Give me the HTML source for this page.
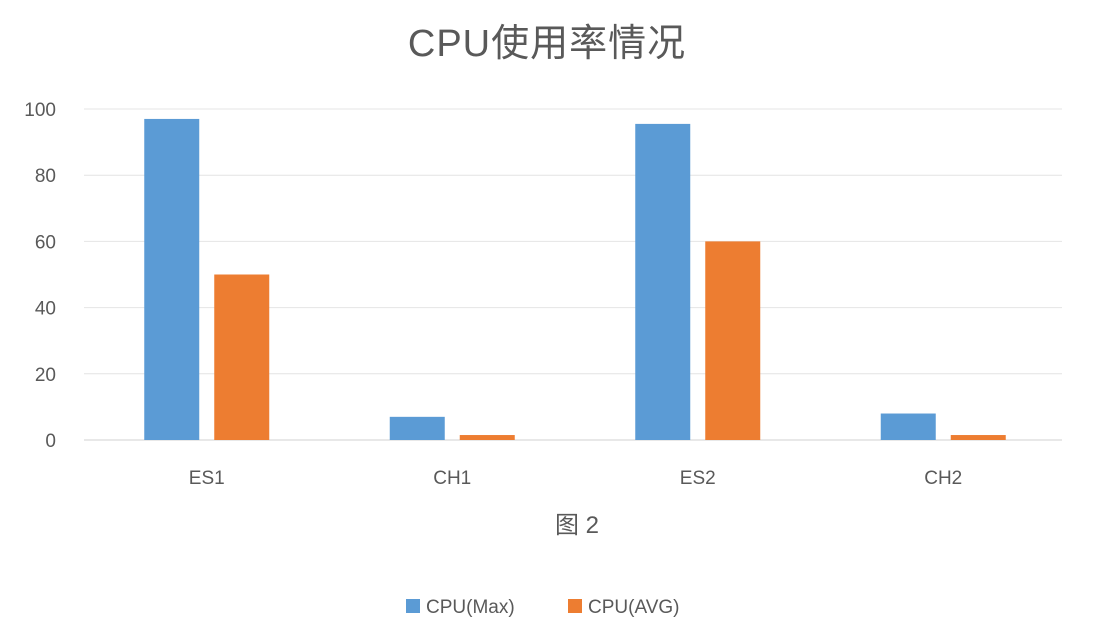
<!DOCTYPE html>
<html><head><meta charset="utf-8"><style>
body{margin:0;background:#fff;}
svg text{font-family:"Liberation Sans","Noto Sans CJK SC",sans-serif;fill:#595959;}
</style></head><body>
<svg id="chart" width="1094" height="638">
<rect x="0" y="0" width="1094" height="638" fill="#fff"/>
<text x="547" y="56" font-size="38" letter-spacing="1" text-anchor="middle">CPU使用率情况</text>
<g id="grid"></g><g id="bars"></g><g id="labels"></g>
<text x="577" y="533" font-size="24" text-anchor="middle">图 2</text>
<g>
<rect x="406" y="599" width="14" height="14" fill="#5b9bd5"/>
<text x="426" y="613" font-size="19">CPU(Max)</text>
<rect x="568" y="599" width="14" height="14" fill="#ed7d31"/>
<text x="588" y="613" font-size="19">CPU(AVG)</text>
</g>
</svg>
<script>
const categories=["ES1","CH1","ES2","CH2"];
const maxValues=[97,7,95.5,8];
const avgValues=[50,1.5,60,1.5];
const yTicks=[0,20,40,60,80,100];
const NS="http://www.w3.org/2000/svg";
const x0=84,x1=1066,y0=440,y100=109;
const yScale=v=>y0-(v/100)*(y0-y100);
const band=(x1-x0)/categories.length;
const xCenter=i=>x0+band*(i+0.5);
function mk(tag,attrs,parent){const e=document.createElementNS(NS,tag);for(const k in attrs)e.setAttribute(k,attrs[k]);document.getElementById(parent).appendChild(e);return e;}
yTicks.forEach(t=>{
 const l=mk("line",{x1:x0,x2:1062,y1:yScale(t),y2:yScale(t),stroke:t===0?"#d0d0d0":"#e4e4e4","stroke-width":1},"grid");
 
 
 const tx=mk("text",{x:56,y:yScale(t)+7,"font-size":19,"text-anchor":"end"},"labels");
 tx.textContent=t;
 
 
});
const bw=55,gap=15;
categories.forEach((c,i)=>{
 const cx=xCenter(i);
 const b1=mk("rect",{x:cx-gap/2-bw,y:yScale(maxValues[i]),width:bw,height:y0-yScale(maxValues[i]),fill:"#5b9bd5"},"bars");
 
 
 const b2=mk("rect",{x:cx+gap/2,y:yScale(avgValues[i]),width:bw,height:y0-yScale(avgValues[i]),fill:"#ed7d31"},"bars");
 
 
 const t=mk("text",{x:cx,y:484,"font-size":19,"text-anchor":"middle"},"labels");
 t.textContent=c;
 
 
});
</script>
</body></html>
